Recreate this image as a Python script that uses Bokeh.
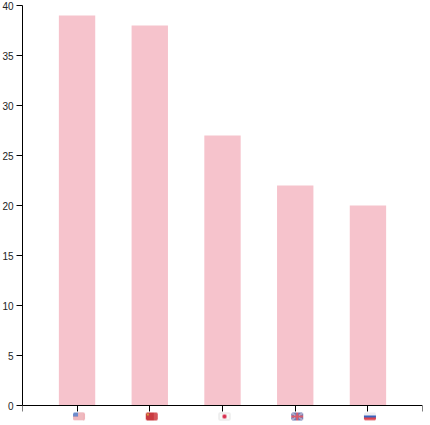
import numpy as np
from bokeh.plotting import figure
from bokeh.models import FixedTicker, Range1d
from bokeh.embed import file_html
from bokeh.resources import INLINE

countries = ["US", "CN", "JP", "GB", "RU"]
values = [39, 38, 27, 22, 20]
y_ticks = [0, 5, 10, 15, 20, 25, 30, 35, 40]

BAR = "#f6c3cc"

W, H = 12, 8
def hexrgb(s):
    return [int(s[i:i+2], 16) for i in (1, 3, 5)]

def blank(color):
    a = np.zeros((H, W, 4), dtype=np.uint8)
    a[:, :, :3] = hexrgb(color)
    a[:, :, 3] = 255
    return a

def flag_us():
    a = blank("#f6d2d6")
    for r in (0, 2, 4, 6):
        a[r, :, :3] = hexrgb("#e9a0a8")
    a[:4, :5, :3] = hexrgb("#6d8ccc")
    a[:, 10:, :3] = hexrgb("#efb4ba")
    return a

def flag_cn():
    a = blank("#c93a40")
    a[1:3, 1:3, :3] = hexrgb("#d9a040")
    a[:, 8:, :3] = hexrgb("#d4555a")
    return a

def flag_jp():
    a = blank("#e4e4e4")
    a[1:7, 1:11, :3] = hexrgb("#f8f8f8")
    a[2:6, 4:8, :3] = hexrgb("#e88a9c")
    a[2:6, 5:7, :3] = hexrgb("#d83050")
    a[3:5, 4:8, :3] = hexrgb("#d83050")
    return a

def flag_gb():
    a = blank("#6e7fb8")
    for c in range(W):
        r = int(round(c * (H - 1) / (W - 1)))
        a[r, c, :3] = hexrgb("#efd4da")
        a[H - 1 - r, c, :3] = hexrgb("#efd4da")
    a[3:5, :, :3] = hexrgb("#d85c6c")
    a[:, 5:7, :3] = hexrgb("#d85c6c")
    return a

def flag_ru():
    a = blank("#eeeef2")
    a[3:5, :, :3] = hexrgb("#3a62bc")
    a[5:, :, :3] = hexrgb("#dc4450")
    a[H - 1, :, :3] = hexrgb("#e88088")
    return a

flags = [flag_us(), flag_cn(), flag_jp(), flag_gb(), flag_ru()]

def finish(a):
    a = a.copy()
    for r, c in ((0, 0), (0, W - 1), (H - 1, 0), (H - 1, W - 1)):
        a[r, c, 3] = 90
    a = np.flipud(a)
    return a.view(dtype=np.uint32).reshape((H, W)).copy()

p = figure(width=430, height=425, output_backend="svg", toolbar_location=None,
           x_range=Range1d(0, 5.5), y_range=Range1d(-2, 40),
           frame_width=400, frame_height=420,
           min_border_left=22, min_border_top=5, min_border_bottom=0, min_border_right=8,
           outline_line_color=None, background_fill_color=None)
p.styles = {"margin-left": "-1px"}
p.grid.visible = False

centers = [0.75 + i for i in range(len(countries))]
p.vbar(x=centers, top=values, bottom=0, width=0.5, fill_color=BAR, line_color=None)

px_x = 5.5 / 400
px_y = 42 / 420
for c, f in zip(centers, flags):
    p.image_rgba(image=[finish(f)], x=c - 4 * px_x, y=-1.5,
                 dw=W * px_x, dh=H * px_y)

xa = p.xaxis[0]
xa.fixed_location = 0
x_ticks = [0] + centers + [5.5]
xa.ticker = FixedTicker(ticks=x_ticks)
xa.major_label_overrides = {t: "" for t in x_ticks}
xa.major_tick_in = 0
xa.major_tick_out = 6
xa.minor_tick_line_color = None
xa.axis_line_color = "#000000"
xa.major_tick_line_color = "#000000"

ya = p.yaxis[0]
ya.bounds = (0, 40)
ya.ticker = FixedTicker(ticks=y_ticks)
ya.major_tick_in = 0
ya.major_tick_out = 6
ya.minor_tick_line_color = None
ya.axis_line_color = "#000000"
ya.major_tick_line_color = "#000000"
ya.major_label_text_font = "Liberation Sans"
ya.major_label_text_font_size = "10px"
ya.major_label_text_color = "#222222"
ya.major_label_standoff = 3

open("out.html", "w").write(file_html(p, INLINE))
